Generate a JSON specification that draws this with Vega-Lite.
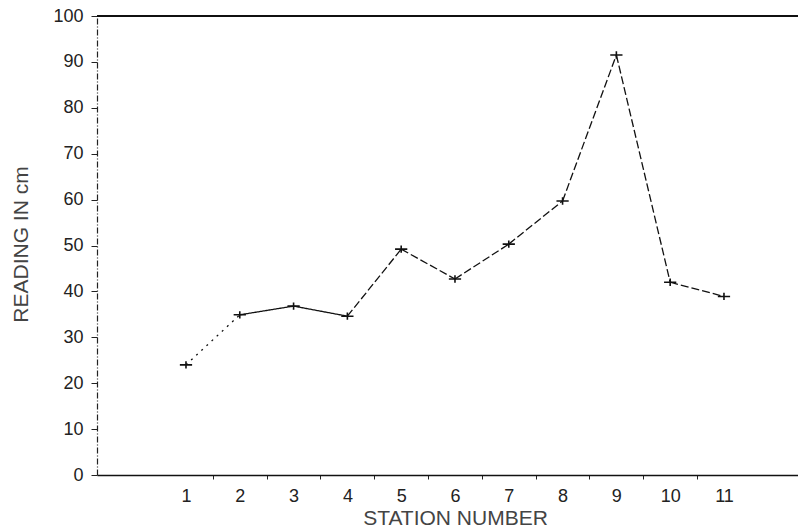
{
  "$schema": "https://vega.github.io/schema/vega-lite/v6.json",
  "width": 701,
  "height": 459,
  "autosize": {"type": "none"},
  "padding": {"left": 97, "top": 16, "right": 0, "bottom": 53},
  "background": "white",
  "config": {
    "view": {"stroke": null},
    "font": "Liberation Sans",
    "axis": {"grid": false, "labelFont": "Liberation Sans", "titleFont": "Liberation Sans", "labelColor": "#222", "titleColor": "#444", "titleFontWeight": "normal", "labelFontSize": 18, "titleFontSize": 21}
  },
  "data": {
    "values": [
      {"station": 1, "reading": 24.0},
      {"station": 2, "reading": 34.9},
      {"station": 3, "reading": 36.8},
      {"station": 4, "reading": 34.6},
      {"station": 5, "reading": 49.2},
      {"station": 6, "reading": 42.7},
      {"station": 7, "reading": 50.3},
      {"station": 8, "reading": 59.7},
      {"station": 9, "reading": 91.5},
      {"station": 10, "reading": 42.0},
      {"station": 11, "reading": 38.9}
    ]
  },
  "layer": [
    {
      "mark": {"type": "rule", "color": "#111", "strokeWidth": 1.3},
      "encoding": {"y": {"datum": 100, "type": "quantitative", "scale": {"domain": [0, 100]}}}
    },
    {
      "transform": [
        {"window": [{"op": "lead", "field": "station", "as": "next_station"}, {"op": "lead", "field": "reading", "as": "next_reading"}], "sort": [{"field": "station"}]},
        {"filter": "datum.next_station != null"}
      ],
      "mark": {"type": "rule", "color": "#111", "strokeWidth": 1.3},
      "encoding": {
        "x": {"field": "station", "type": "quantitative"},
        "x2": {"field": "next_station"},
        "y": {"field": "reading", "type": "quantitative"},
        "y2": {"field": "next_reading"},
        "strokeDash": {
          "condition": [
            {"test": "datum.station == 1", "value": [2, 5]},
            {"test": "datum.station == 2 || datum.station == 3", "value": [1, 0]}
          ],
          "value": [8, 3]
        }
      }
    },
    {
      "mark": {"type": "point", "shape": "M-1,0H1M0,-0.6V0.6", "size": 150, "stroke": "#111", "strokeWidth": 1.6, "filled": false, "opacity": 1},
      "encoding": {
        "x": {
          "field": "station",
          "type": "quantitative",
          "scale": {"domain": [-0.654, 12.376], "nice": false, "zero": false},
          "axis": {
            "title": "STATION NUMBER",
            "values": [1.5, 2.5, 3.5, 4.5, 5.5, 6.5, 7.5, 8.5, 9.5, 10.5, 11.5],
            "labelExpr": "format(datum.value - 0.5, 'd')",
            "labelOffset": -26.9,
            "labelPadding": 8,
            "tickSize": 4,
            "tickColor": "#222",
            "tickOpacity": {"condition": {"test": "datum.value > 11", "value": 0}, "value": 1},
            "domainColor": "#111",
            "domainWidth": 1.3,
            "titleX": 358,
            "titleY": 49,
            "titleBaseline": "alphabetic",
            "titleAnchor": null
          }
        },
        "y": {
          "field": "reading",
          "type": "quantitative",
          "scale": {"domain": [0, 100], "nice": false},
          "axis": {
            "title": "READING IN cm",
            "values": [0, 10, 20, 30, 40, 50, 60, 70, 80, 90, 100],
            "tickSize": 6,
            "tickColor": "#222",
            "labelPadding": 8,
            "domainColor": "#222",
            "domainWidth": 1.2,
            "domainDash": [6, 2, 1, 2],
            "titleX": -70,
            "titleY": 228,
            "titleBaseline": "alphabetic",
            "titleAnchor": null
          }
        }
      }
    }
  ]
}
